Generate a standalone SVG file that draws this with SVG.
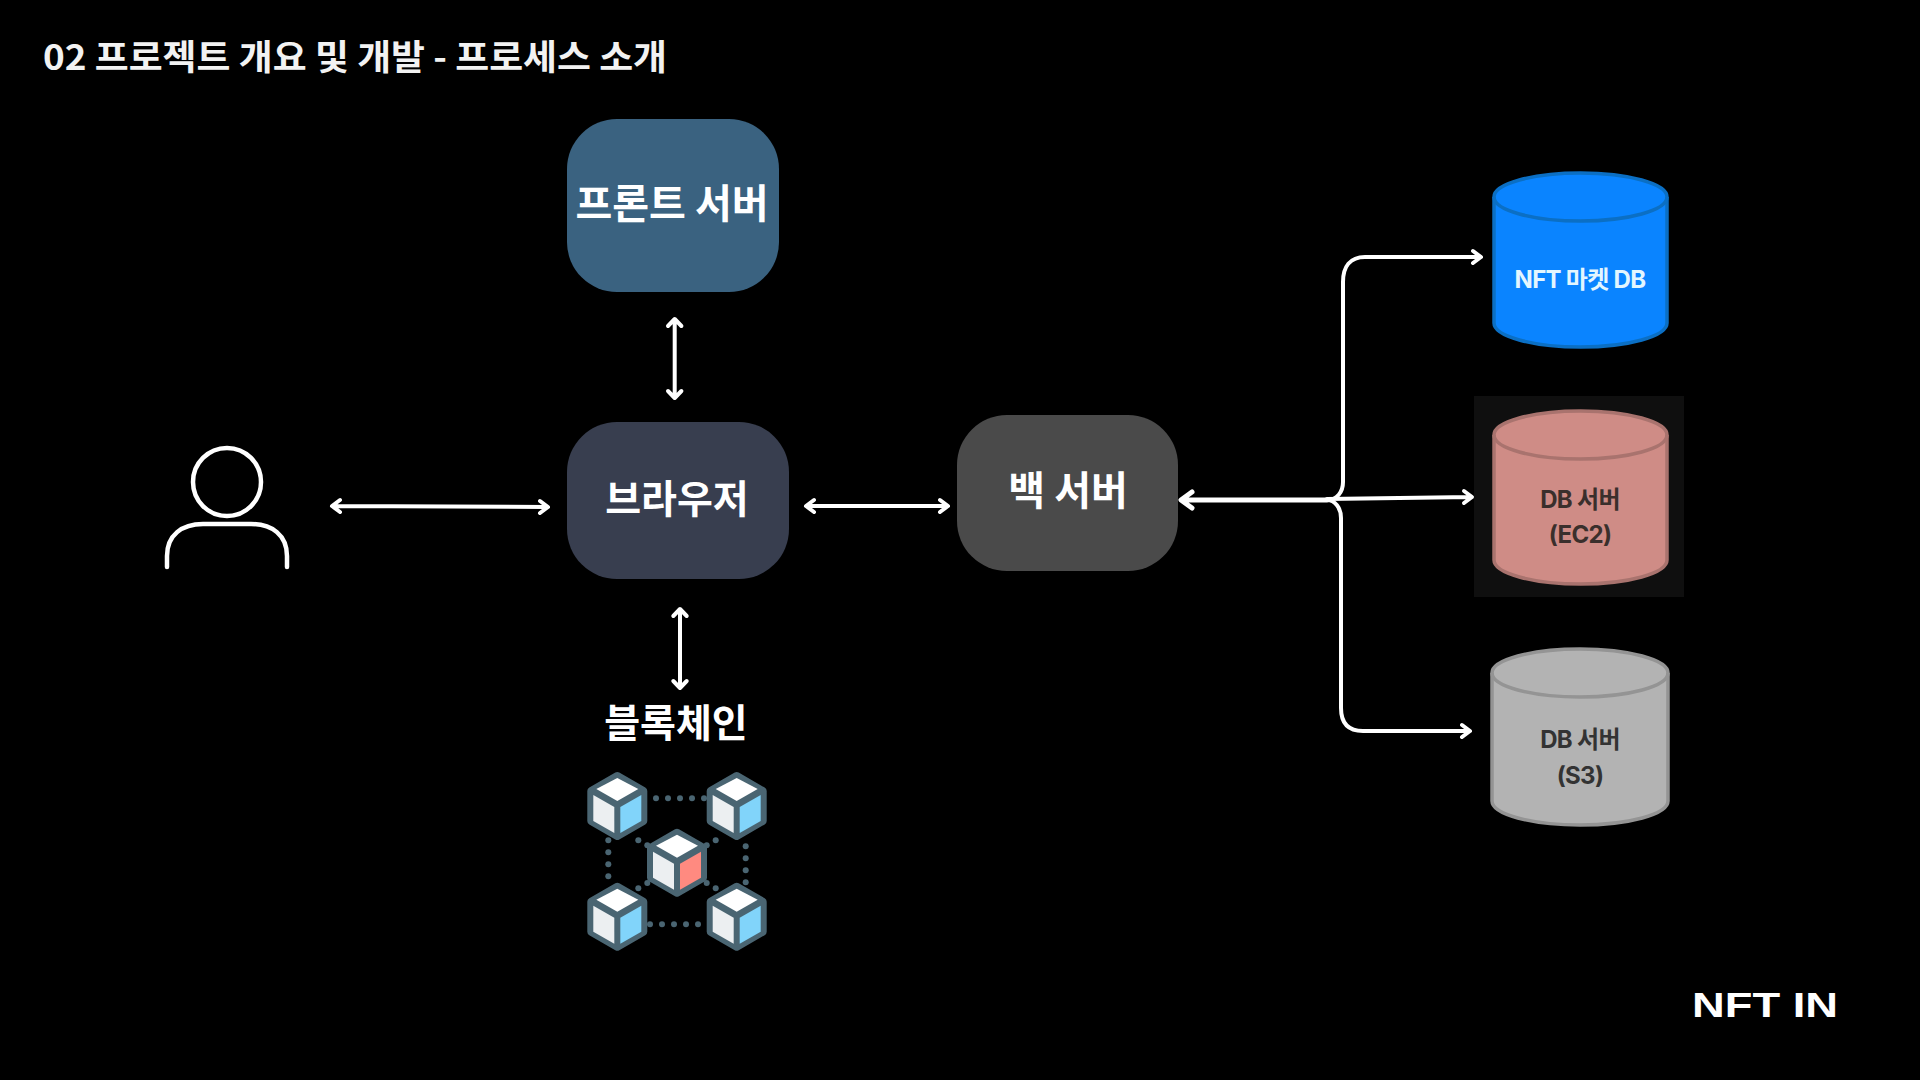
<svg xmlns="http://www.w3.org/2000/svg" xmlns:xlink="http://www.w3.org/1999/xlink" width="1920" height="1080" viewBox="0 0 1920 1080">
<style>
text{font-family:"Noto Sans CJK KR","Noto Sans",sans-serif;text-anchor:middle}
.n{fill:#fff;font-weight:700}
.db{font-family:Inter,"Noto Sans CJK KR",sans-serif;font-weight:700;font-size:24px;letter-spacing:-.7px}
.c{fill:none;stroke:#fff;stroke-width:4;stroke-linecap:round;stroke-linejoin:round}
.h{fill:none;stroke:#fff;stroke-width:4.500;stroke-linecap:round;stroke-linejoin:round}
.d{fill:#4a6572}
</style>
<defs>
<g id="cube">
<path d="M0-30 26-15V15L0 30-26 15V-15Z" fill="#4a6572" stroke="#4a6572" stroke-width="8" stroke-linejoin="round"/>
<path d="M0-28 21-17 0-5-21-17Z" fill="#fff"/>
<path d="M-24-11-3 1V27L-24 15Z" fill="#eceff1"/>
</g>
<path id="rf" d="M24-11V15L3 27V1Z"/>
</defs>
<rect width="1920" height="1080" fill="#000"/>
<text x="355" y="70" font-size="35" font-weight="700" fill="#f2f2f2" textLength="624" lengthAdjust="spacingAndGlyphs">02 프로젝트 개요 및 개발 - 프로세스 소개</text>

<g id="connectors">
<g class="c">
<path d="M674.700 320V397M668 326l6.700-7 6.700 7M668 391l6.700 7 6.700-7"/>
<path d="M680 610V687M673.300 616l6.700-7 6.700 7M673.300 681l6.700 7 6.700-7"/>
<path d="M333 506 547 507M340 500l-8 6 8 6M540 501l8 6-8 6"/>
<path d="M807 506H947M814 500l-8 6 8 6M940 500l8 6-8 6"/>
<path d="M1327 500C1337 500 1343 492 1343 482V282C1343 267 1350 257 1365 257H1479M1473 251l8 6-8 6"/>
<path d="M1327 500C1335 500 1341 508 1341 518V708C1341 723 1348 731 1363 731H1468M1462 725l8 6-8 6"/>
<path d="M1327 499 1471 497M1464 491l8 6-8 6"/>
</g>
<path d="M1182 500H1327M1192 492l-11 8 11 8" fill="none" stroke="#fff" stroke-width="5" stroke-linecap="round" stroke-linejoin="round"/>
</g>

<g id="front-server">
<rect x="567" y="119" width="212" height="173" rx="50" fill="#3a6280"/>
<text class="n" x="672" y="218" font-size="40">프론트 서버</text>
</g>
<g id="browser">
<rect x="567" y="422" width="222" height="157" rx="50" fill="#383e4f"/>
<text class="n" x="677" y="513" font-size="39">브라우저</text>
</g>
<g id="back-server">
<rect x="957" y="415" width="221" height="156" rx="50" fill="#4a4a4a"/>
<text class="n" x="1068" y="505" font-size="40">백 서버</text>
</g>
<g id="user" class="h">
<circle cx="227" cy="482" r="34"/>
<path d="M167 567V556C167 535 182 524 203 524H251C272 524 287 535 287 556V567"/>
</g>
<g id="blockchain">
<text class="n" x="676" y="737" font-size="39">블록체인</text>
<g class="d">
<circle cx="656" cy="798.300" r="3"/><circle cx="668" cy="798.300" r="3"/><circle cx="680" cy="798.300" r="3"/><circle cx="692" cy="798.300" r="3"/><circle cx="704" cy="798.300" r="3"/>
<circle cx="650" cy="924.300" r="3"/><circle cx="662" cy="924.300" r="3"/><circle cx="674" cy="924.300" r="3"/><circle cx="686" cy="924.300" r="3"/><circle cx="698" cy="924.300" r="3"/>
<circle cx="608.300" cy="840.300" r="3"/><circle cx="608.300" cy="852.300" r="3"/><circle cx="608.300" cy="864.300" r="3"/><circle cx="608.300" cy="876.300" r="3"/>
<circle cx="745.700" cy="846.300" r="3"/><circle cx="745.700" cy="858.300" r="3"/><circle cx="745.700" cy="870.300" r="3"/><circle cx="745.700" cy="882.300" r="3"/>
<circle cx="638.300" cy="840.300" r="3"/><circle cx="647.300" cy="845.300" r="3"/><circle cx="706.700" cy="845.300" r="3"/><circle cx="715.700" cy="840.300" r="3"/>
<circle cx="638.300" cy="888.300" r="3"/><circle cx="647.300" cy="883" r="3"/><circle cx="706.700" cy="883" r="3"/><circle cx="715.700" cy="888.300" r="3"/>
</g>
<g fill="#81d4fa">
<g transform="translate(617.300 806)"><use href="#cube"/><use href="#rf"/></g>
<g transform="translate(736.700 806)"><use href="#cube"/><use href="#rf"/></g>
<g transform="translate(617.300 916.700)"><use href="#cube"/><use href="#rf"/></g>
<g transform="translate(736.700 916.700)"><use href="#cube"/><use href="#rf"/></g>
<g transform="translate(677 862.700)"><use href="#cube"/><use href="#rf" fill="#ff8a80"/></g>
</g>
</g>
<g id="db-nft">
<path d="M1494 197A86.500 24 0 0 1 1667 197V323A86.500 24 0 0 1 1494 323Z" fill="#0a84ff" stroke="#0b6fc4" stroke-width="3.500"/>
<path d="M1494 197A86.500 24 0 0 0 1667 197" fill="none" stroke="#0b6fc4" stroke-width="3.500"/>
<text class="db" x="1580" y="288" fill="#e3f6ff">NFT 마켓 DB</text>
</g>
<g id="db-ec2">
<rect x="1474" y="396" width="210" height="201" fill="#0f0f0f"/>
<path d="M1494 435A86.500 24 0 0 1 1667 435V560A86.500 24 0 0 1 1494 560Z" fill="#cf8c86" stroke="#a9736e" stroke-width="3.500"/>
<path d="M1494 435A86.500 24 0 0 0 1667 435" fill="none" stroke="#a9736e" stroke-width="3.500"/>
<text class="db" x="1580" y="508" fill="#3a2f2c">DB 서버</text>
<text class="db" x="1580" y="543" fill="#3a2f2c">(EC2)</text>
</g>
<g id="db-s3">
<path d="M1492 673A88 24 0 0 1 1668 673V801A88 24 0 0 1 1492 801Z" fill="#b3b3b3" stroke="#949494" stroke-width="3.500"/>
<path d="M1492 673A88 24 0 0 0 1668 673" fill="none" stroke="#949494" stroke-width="3.500"/>
<text class="db" x="1580" y="748" fill="#333">DB 서버</text>
<text class="db" x="1580" y="784" fill="#333">(S3)</text>
</g>
<text id="logo" x="1765" y="1017" font-size="35" fill="#fff" style="font-family:'Liberation Sans',sans-serif;font-weight:700" textLength="146" lengthAdjust="spacingAndGlyphs">NFT IN</text>
</svg>
